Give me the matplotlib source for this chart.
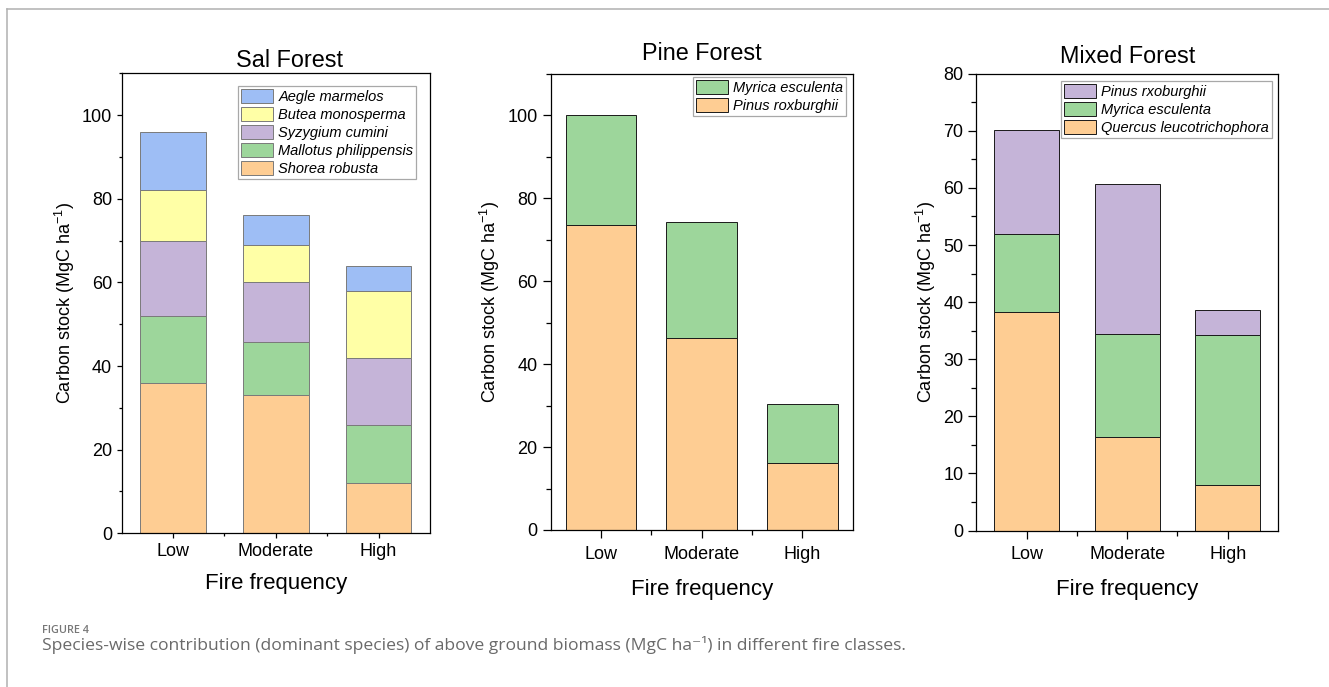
import matplotlib
matplotlib.use("Agg")
import matplotlib.pyplot as plt
from matplotlib.lines import Line2D
from matplotlib.ticker import MultipleLocator, FixedLocator

plt.rcParams['font.family'] = ['Liberation Sans', 'DejaVu Sans']
plt.rcParams['mathtext.fontset'] = 'custom'
plt.rcParams['mathtext.rm'] = 'Liberation Sans'
plt.rcParams['mathtext.it'] = 'Liberation Sans:italic'

# data (MgC ha-1)
fire_classes = ['Low', 'Moderate', 'High']

sal_species = ['Shorea robusta', 'Mallotus philippensis', 'Syzygium cumini',
               'Butea monosperma', 'Aegle marmelos']
sal_shorea = [36, 33, 12]
sal_mallotus = [16, 12.8, 14]
sal_syzygium = [18, 14.2, 16]
sal_butea = [12, 9, 16]
sal_aegle = [14, 7, 6]

pine_species = ['Pinus roxburghii', 'Myrica esculenta']
pine_pinus = [73.6, 46.2, 16.1]
pine_myrica = [26.4, 28.1, 14.2]

mixed_species = ['Quercus leucotrichophora', 'Myrica esculenta', 'Pinus rxoburghii']
mixed_quercus = [38.2, 16.3, 8.0]
mixed_myrica = [13.7, 18.2, 26.3]
mixed_pinus = [18.3, 26.2, 4.3]

orange = '#fecd93'
green = '#9dd69b'
purple = '#c5b4d8'
yellow = '#ffffa6'
blue = '#9ebef5'


def draw_stack(ax, series, names, colors, width, edge):
    x = range(len(fire_classes))
    bottom = [0] * len(fire_classes)
    handles = []
    for vals, name, col in zip(series, names, colors):
        b = ax.bar(x, vals, width, bottom=bottom, color=col, edgecolor=edge,
                   linewidth=0.7, label=name)
        handles.append(b)
        bottom = [p + q for p, q in zip(bottom, vals)]
    return handles


def style_axes(ax, ymax, major, minor, ticklen, xpad, labelpad):
    ax.set_xlim(-0.5, 2.5)
    ax.set_ylim(0, ymax)
    ax.set_xticks(range(len(fire_classes)))
    ax.set_xticklabels(fire_classes)
    ax.xaxis.set_minor_locator(FixedLocator([0.5, 1.5]))
    ax.yaxis.set_major_locator(MultipleLocator(major))
    ax.yaxis.set_minor_locator(MultipleLocator(minor))
    ax.tick_params(axis='both', which='major', direction='out', length=ticklen,
                   width=0.9, labelsize=13, pad=3.5)
    ax.tick_params(axis='x', which='major', pad=xpad)
    ax.tick_params(axis='both', which='minor', direction='out',
                   length=ticklen * 0.55, width=0.9)
    for s in ax.spines.values():
        s.set_linewidth(0.9)
        s.set_color('black')
    ax.set_xlabel('Fire frequency', fontsize=16, labelpad=labelpad)
    ax.set_ylabel('Carbon stock (MgC ha$^{-1}$)', fontsize=13, labelpad=3.5)


def add_legend(ax, handles, anchor):
    leg = ax.legend(handles[::-1], [h.get_label() for h in handles[::-1]],
                    loc='upper right', bbox_to_anchor=anchor, borderaxespad=0,
                    prop={'style': 'italic', 'size': 10.5},
                    handlelength=2.2, handleheight=1.1, labelspacing=0.21,
                    handletextpad=0.35, borderpad=0.2, fancybox=False,
                    framealpha=1, edgecolor='#a8a8a8')
    leg.get_frame().set_linewidth(0.9)
    return leg


fig = plt.figure(figsize=(13.29, 6.87), dpi=100)

ax1 = fig.add_axes([0.09157, 0.22373, 0.23198, 0.66958])
h1 = draw_stack(ax1, [sal_shorea, sal_mallotus, sal_syzygium, sal_butea, sal_aegle],
                sal_species, [orange, green, purple, yellow, blue], 0.64, '#7a7a7a')
style_axes(ax1, 110, 20, 10, 3.5, 3.5, 9.3)
ax1.set_title('Sal Forest', fontsize=16.8, pad=4.8, x=0.544)
add_legend(ax1, h1, (0.9556, 0.973))

ax2 = fig.add_axes([0.41437, 0.22853, 0.22724, 0.66448])
h2 = draw_stack(ax2, [pine_pinus, pine_myrica], pine_species,
                [orange, green], 0.70, '#1a1a1a')
style_axes(ax2, 110, 20, 10, 6, 5.5, 11.5)
ax2.set_title('Pine Forest', fontsize=16.8, pad=9.4)
add_legend(ax2, h2, (0.978, 0.992))

ax3 = fig.add_axes([0.73476, 0.2278, 0.22686, 0.6649])
h3 = draw_stack(ax3, [mixed_quercus, mixed_myrica, mixed_pinus], mixed_species,
                [orange, green, purple], 0.65, '#1a1a1a')
style_axes(ax3, 80, 10, 5, 6, 5.5, 11.5)
ax3.set_title('Mixed Forest', fontsize=16.8, pad=7.8)
add_legend(ax3, h3, (0.979, 0.984))

# page frame (top and left rules)
W, H = 1329.0, 687.0
fig.add_artist(Line2D([7.3 / W, 1.0], [1 - 9.3 / H, 1 - 9.3 / H],
                      transform=fig.transFigure, color='#b0b0b0', lw=1.1))
fig.add_artist(Line2D([7.3 / W, 7.3 / W], [1 - 9.3 / H, 0.0],
                      transform=fig.transFigure, color='#b0b0b0', lw=1.1))

# caption
fig.text(42 / W, 1 - 632.7 / H, 'FIGURE 4', fontsize=7.8, color='#777777',
         family=['Open Sans', 'DejaVu Sans'], fontweight='semibold', va='baseline')
fig.text(42 / W, 1 - 650.5 / H,
         'Species-wise contribution (dominant species) of above ground biomass '
         '(MgC ha\u207b\u00b9) in different fire classes.',
         fontsize=12.6, color='#6a6a6a', family=['Open Sans', 'DejaVu Sans'],
         va='baseline')

fig.savefig('out.png', dpi=100)
